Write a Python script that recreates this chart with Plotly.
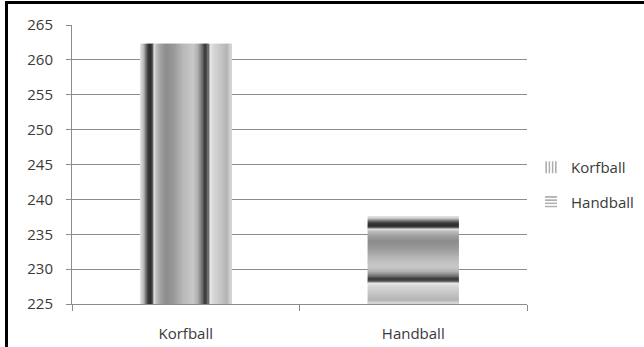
import numpy as np
import plotly.graph_objects as go

# Data
categories = ["Korfball", "Handball"]
values = [262.3, 237.6]
y_ticks = [225, 230, 235, 240, 245, 250, 255, 260, 265]

AXIS_MIN, AXIS_MAX = 225, 265
BAR_WIDTH = 0.4
FONT = dict(family="Open Sans, sans-serif", size=15, color="#3a3a3a")
GRID = "#8c8c8c"

# Metallic stripe profile (position across the bar 0..1 -> grey level)
stop_pos = [0.0, 0.044, 0.067, 0.09, 0.12, 0.144, 0.155, 0.178, 0.23, 0.29,
            0.37, 0.48, 0.59, 0.64, 0.69, 0.72, 0.745, 0.77, 0.80, 0.89,
            0.955, 1.0]
stop_lvl = [232, 176, 112, 58, 42, 106, 232, 192, 160, 140,
            152, 184, 200, 176, 112, 56, 80, 232, 216, 196,
            180, 216]


def grey(frac):
    v = int(round(np.interp(frac, stop_pos, stop_lvl)))
    return f"rgb({v},{v},{v})"


fig = go.Figure()

# Korfball: vertical stripes, built from thin side-by-side slices
n = 90
w = BAR_WIDTH / n
fig.add_trace(go.Bar(
    x=[categories[0]] * n,
    y=[values[0] - AXIS_MIN] * n,
    base=[AXIS_MIN] * n,
    offset=[-BAR_WIDTH / 2 + i * w for i in range(n)],
    width=[w * (1.15 if i < n - 1 else 1.0) for i in range(n)],
    marker=dict(color=[grey((i + 0.5) / n) for i in range(n)], line=dict(width=0)),
    showlegend=False, hoverinfo="skip",
))

# Handball: horizontal stripes, built from stacked slices (top = start of profile)
m = 90
h = (values[1] - AXIS_MIN) / m
fig.add_trace(go.Bar(
    x=[categories[1]] * m,
    y=[h * (1.15 if i > 0 else 1.0) for i in range(m)],
    base=[values[1] - (i + 1) * h for i in range(m)],
    offset=[-BAR_WIDTH / 2] * m,
    width=[BAR_WIDTH] * m,
    marker=dict(color=[grey((i + 0.5) / m) for i in range(m)], line=dict(width=0)),
    showlegend=False, hoverinfo="skip",
))

# Legend entries
fig.add_trace(go.Bar(
    x=[None], y=[None], name=categories[0], legendgroup="k",
    marker=dict(color="white", line=dict(width=0),
                pattern=dict(shape="|", fgcolor="#606060", bgcolor="white", size=4, solidity=0.5)),
))
fig.add_trace(go.Bar(
    x=[None], y=[None], name=categories[1], legendgroup="h",
    marker=dict(color="white", line=dict(width=0),
                pattern=dict(shape="-", fgcolor="#606060", bgcolor="white", size=4, solidity=0.5)),
))

W, H = 644, 347
L, R, T, B = 72, 117, 25, 43
pw, ph = W - L - R, H - T - B


def px_x(x):
    return (x - L) / pw


def px_y(y):
    return (H - B - y) / ph


fig.update_layout(
    width=W, height=H,
    margin=dict(l=L, r=R, t=T, b=B, autoexpand=False),
    paper_bgcolor="white", plot_bgcolor="white",
    barmode="overlay",
    font=FONT,
    showlegend=True,
    legend=dict(x=px_x(531), y=px_y(151), xanchor="left", yanchor="top",
                tracegroupgap=12, font=FONT, bgcolor="rgba(0,0,0,0)"),
    xaxis=dict(
        type="category", categoryorder="array", categoryarray=categories,
        range=[-0.5, 1.5], showgrid=False,
        showline=True, linecolor=GRID, linewidth=1,
        ticks="outside", tickson="boundaries", ticklen=6, tickcolor=GRID,
        ticklabelstandoff=16, fixedrange=True,
    ),
    yaxis=dict(
        range=[AXIS_MIN, AXIS_MAX], tickvals=y_ticks,
        showgrid=True, gridcolor=GRID, gridwidth=1,
        showline=True, linecolor=GRID, linewidth=1,
        ticks="outside", ticklen=5, tickcolor=GRID,
        ticklabelstandoff=10, zeroline=False, fixedrange=True,
    ),
    shapes=[
        # outer frame (top and left edges)
        dict(type="line", xref="paper", yref="paper",
             x0=px_x(5), x1=px_x(660), y0=px_y(2.5), y1=px_y(2.5),
             line=dict(color="black", width=3)),
        dict(type="line", xref="paper", yref="paper",
             x0=px_x(6.5), x1=px_x(6.5), y0=px_y(1), y1=px_y(360),
             line=dict(color="black", width=3)),
    ],
)

fig.write_html("out.html")
